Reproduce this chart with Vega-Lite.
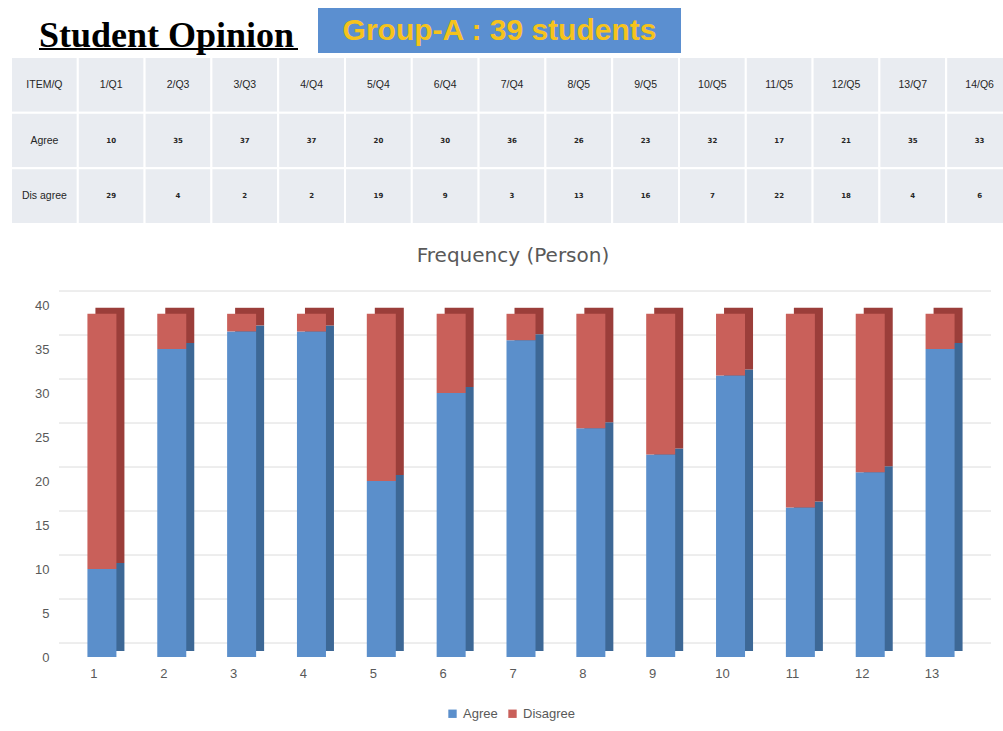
{
  "$schema": "https://vega.github.io/schema/vega-lite/v6.json",
  "padding": {"left": 10, "top": 8, "right": 0, "bottom": 0},
  "background": "white",
  "config": {"view": {"stroke": null}},
  "columns": 1,
  "align": "none",
  "spacing": 20,
  "concat": [
    {
      "spacing": 2,
      "vconcat": [
        {
          "width": 1002,
          "height": 45,
          "data": {"values": [
            {"part": "title", "label": "Student Opinion"},
            {"part": "box", "label": "Group-A : 39 students"}
          ]},
          "encoding": {
            "x": {"field": "part", "type": "nominal", "axis": null,
                  "scale": {"domain": ["title", "box", "rest"], "paddingInner": 0, "paddingOuter": 0}}
          },
          "layer": [
            {"transform": [{"filter": "datum.part == 'box'"}],
             "mark": {"type": "bar", "width": 363, "xOffset": -60.5, "color": "#5b8fd0"}},
            {"transform": [{"filter": "datum.part == 'box'"}],
             "mark": {"type": "text", "font": "Liberation Sans", "fontWeight": "bold", "fontSize": 30, "color": "#f6c31c", "align": "center", "baseline": "middle", "dx": -60.5, "dy": 0.5},
             "encoding": {"text": {"field": "label"}}},
            {"transform": [{"filter": "datum.part == 'title'"}],
             "mark": {"type": "text", "font": "Liberation Serif", "fontWeight": "bold", "fontSize": 36, "color": "#000000", "align": "left", "baseline": "alphabetic", "dx": -20, "dy": 16.5},
             "encoding": {"x": {"field": "part", "type": "nominal", "bandPosition": 0}, "text": {"field": "label"}}},
            {"transform": [{"filter": "datum.part == 'title'"}],
             "mark": {"type": "bar", "width": 259, "height": 2, "xOffset": -57.5, "yOffset": 41, "color": "#000000"}}
          ]
        },
        {
          "width": 1002,
          "height": 167,
          "data": {"values": [
            {"row": "ITEM/Q", "col": "ITEM/Q", "label": "ITEM/Q"},
            {"row": "ITEM/Q", "col": "1/Q1", "label": "1/Q1"},
            {"row": "ITEM/Q", "col": "2/Q3", "label": "2/Q3"},
            {"row": "ITEM/Q", "col": "3/Q3", "label": "3/Q3"},
            {"row": "ITEM/Q", "col": "4/Q4", "label": "4/Q4"},
            {"row": "ITEM/Q", "col": "5/Q4", "label": "5/Q4"},
            {"row": "ITEM/Q", "col": "6/Q4", "label": "6/Q4"},
            {"row": "ITEM/Q", "col": "7/Q4", "label": "7/Q4"},
            {"row": "ITEM/Q", "col": "8/Q5", "label": "8/Q5"},
            {"row": "ITEM/Q", "col": "9/Q5", "label": "9/Q5"},
            {"row": "ITEM/Q", "col": "10/Q5", "label": "10/Q5"},
            {"row": "ITEM/Q", "col": "11/Q5", "label": "11/Q5"},
            {"row": "ITEM/Q", "col": "12/Q5", "label": "12/Q5"},
            {"row": "ITEM/Q", "col": "13/Q7", "label": "13/Q7"},
            {"row": "ITEM/Q", "col": "14/Q6", "label": "14/Q6"},
            {"row": "Agree", "col": "ITEM/Q", "label": "Agree"},
            {"row": "Agree", "col": "1/Q1", "label": "10"},
            {"row": "Agree", "col": "2/Q3", "label": "35"},
            {"row": "Agree", "col": "3/Q3", "label": "37"},
            {"row": "Agree", "col": "4/Q4", "label": "37"},
            {"row": "Agree", "col": "5/Q4", "label": "20"},
            {"row": "Agree", "col": "6/Q4", "label": "30"},
            {"row": "Agree", "col": "7/Q4", "label": "36"},
            {"row": "Agree", "col": "8/Q5", "label": "26"},
            {"row": "Agree", "col": "9/Q5", "label": "23"},
            {"row": "Agree", "col": "10/Q5", "label": "32"},
            {"row": "Agree", "col": "11/Q5", "label": "17"},
            {"row": "Agree", "col": "12/Q5", "label": "21"},
            {"row": "Agree", "col": "13/Q7", "label": "35"},
            {"row": "Agree", "col": "14/Q6", "label": "33"},
            {"row": "Dis agree", "col": "ITEM/Q", "label": "Dis agree"},
            {"row": "Dis agree", "col": "1/Q1", "label": "29"},
            {"row": "Dis agree", "col": "2/Q3", "label": "4"},
            {"row": "Dis agree", "col": "3/Q3", "label": "2"},
            {"row": "Dis agree", "col": "4/Q4", "label": "2"},
            {"row": "Dis agree", "col": "5/Q4", "label": "19"},
            {"row": "Dis agree", "col": "6/Q4", "label": "9"},
            {"row": "Dis agree", "col": "7/Q4", "label": "3"},
            {"row": "Dis agree", "col": "8/Q5", "label": "13"},
            {"row": "Dis agree", "col": "9/Q5", "label": "16"},
            {"row": "Dis agree", "col": "10/Q5", "label": "7"},
            {"row": "Dis agree", "col": "11/Q5", "label": "22"},
            {"row": "Dis agree", "col": "12/Q5", "label": "18"},
            {"row": "Dis agree", "col": "13/Q7", "label": "4"},
            {"row": "Dis agree", "col": "14/Q6", "label": "6"}
          ]},
          "encoding": {
            "x": {"field": "col", "type": "nominal", "sort": null, "axis": null,
                  "scale": {"paddingInner": 0, "paddingOuter": 0}},
            "y": {"field": "row", "type": "nominal", "sort": null, "axis": null,
                  "scale": {"paddingInner": 0, "paddingOuter": 0}}
          },
          "layer": [
            {"mark": {"type": "rect", "fill": "#e9ecf1", "stroke": "#ffffff", "strokeWidth": 2, "xOffset": -48}},
            {"transform": [{"filter": "datum.row == 'ITEM/Q' || datum.col == 'ITEM/Q'"}],
             "mark": {"type": "text", "font": "Liberation Sans", "fontSize": 10.5, "color": "#262626", "xOffset": -48},
             "encoding": {"text": {"field": "label"}}},
            {"transform": [{"filter": "datum.row != 'ITEM/Q' && datum.col != 'ITEM/Q'"}],
             "mark": {"type": "text", "font": "DejaVu Sans", "fontWeight": "bold", "fontSize": 7, "color": "#262626", "xOffset": -48},
             "encoding": {"text": {"field": "label"}}}
          ]
        }
      ]
    },
    {
      "width": 908,
      "height": 352,
      "title": {"text": "Frequency (Person)", "font": "DejaVu Sans", "fontSize": 20, "fontWeight": "normal", "color": "#595959", "offset": 25, "anchor": "middle"},
      "data": {"values": [
        {"item": 1, "response": "Agree", "count": 10},
        {"item": 1, "response": "Disagree", "count": 29},
        {"item": 2, "response": "Agree", "count": 35},
        {"item": 2, "response": "Disagree", "count": 4},
        {"item": 3, "response": "Agree", "count": 37},
        {"item": 3, "response": "Disagree", "count": 2},
        {"item": 4, "response": "Agree", "count": 37},
        {"item": 4, "response": "Disagree", "count": 2},
        {"item": 5, "response": "Agree", "count": 20},
        {"item": 5, "response": "Disagree", "count": 19},
        {"item": 6, "response": "Agree", "count": 30},
        {"item": 6, "response": "Disagree", "count": 9},
        {"item": 7, "response": "Agree", "count": 36},
        {"item": 7, "response": "Disagree", "count": 3},
        {"item": 8, "response": "Agree", "count": 26},
        {"item": 8, "response": "Disagree", "count": 13},
        {"item": 9, "response": "Agree", "count": 23},
        {"item": 9, "response": "Disagree", "count": 16},
        {"item": 10, "response": "Agree", "count": 32},
        {"item": 10, "response": "Disagree", "count": 7},
        {"item": 11, "response": "Agree", "count": 17},
        {"item": 11, "response": "Disagree", "count": 22},
        {"item": 12, "response": "Agree", "count": 21},
        {"item": 12, "response": "Disagree", "count": 18},
        {"item": 13, "response": "Agree", "count": 35},
        {"item": 13, "response": "Disagree", "count": 4}
      ]},
      "layer": [
        {"data": {"values": [{"tick": 0}, {"tick": 5}, {"tick": 10}, {"tick": 15}, {"tick": 20}, {"tick": 25}, {"tick": 30}, {"tick": 35}, {"tick": 40}]},
         "mark": {"type": "rule", "color": "#dcdcdc", "strokeWidth": 1, "xOffset": 24, "x2Offset": 24, "yOffset": -14},
         "encoding": {"y": {"field": "tick", "type": "quantitative",
                            "scale": {"domain": [0, 40], "nice": false},
                            "axis": {"title": null, "values": [0, 5, 10, 15, 20, 25, 30, 35, 40], "ticks": false, "domain": false,
                                     "labelPadding": 10, "labelFontSize": 13, "labelColor": "#595959", "labelFont": "Liberation Sans",
                                     "grid": false, "minExtent": 48}}}},
        {"mark": {"type": "bar", "width": 29, "xOffset": 16, "yOffset": -6},
         "encoding": {
           "x": {"field": "item", "type": "ordinal",
                 "scale": {"paddingInner": 0, "paddingOuter": 0},
                 "axis": {"title": null, "labelAngle": 0, "ticks": false, "domain": false, "labelPadding": 10,
                          "labelFontSize": 13, "labelColor": "#595959", "labelFont": "Liberation Sans", "grid": false}},
           "y": {"field": "count", "type": "quantitative", "stack": "zero",
                 "scale": {"domain": [0, 40], "nice": false},
                 "axis": {"title": null, "values": [0, 5, 10, 15, 20, 25, 30, 35, 40], "ticks": false, "domain": false,
                          "labelPadding": 10, "labelFontSize": 13, "labelColor": "#595959", "labelFont": "Liberation Sans",
                          "grid": false, "minExtent": 48}},
           "order": {"field": "response", "sort": "ascending"},
           "color": {"field": "response", "type": "nominal",
                     "scale": {"domain": ["Agree", "Disagree"], "range": ["#3d6896", "#9b3e3a"]},
                     "legend": null}}},
        {"mark": {"type": "bar", "width": 29, "xOffset": 8},
         "encoding": {
           "x": {"field": "item", "type": "ordinal"},
           "y": {"field": "count", "type": "quantitative", "stack": "zero"},
           "order": {"field": "response", "sort": "ascending"},
           "color": {"field": "response", "type": "nominal",
                     "scale": {"domain": ["Agree", "Disagree"], "range": ["#5b8fcb", "#c9605a"]},
                     "legend": {"title": null, "orient": "none", "legendX": 387, "legendY": 402,
                                "direction": "horizontal", "symbolType": "square",
                                "symbolSize": 70, "labelFontSize": 13, "labelColor": "#595959",
                                "labelFont": "Liberation Sans", "columnPadding": 8}}}}
      ],
      "resolve": {"scale": {"color": "independent"}, "legend": {"color": "independent"}}
    }
  ]
}
